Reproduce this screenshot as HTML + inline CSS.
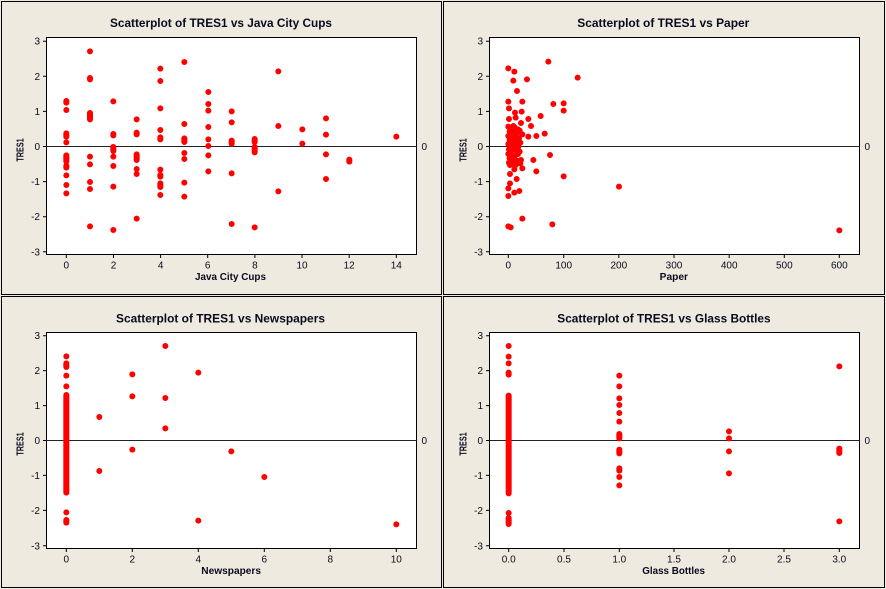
<!DOCTYPE html>
<html><head><meta charset="utf-8"><style>
html,body{margin:0;padding:0;background:#EEEADF;}
svg{display:block;}
text{font-family:"Liberation Sans",Arial,sans-serif;fill:#0a0a1e;}
.t{font-size:12px;font-weight:bold;}
.a{font-size:10px;font-weight:bold;}
.k{font-size:10px;}
</style></head><body>
<svg width="886" height="589" viewBox="0 0 886 589" xmlns="http://www.w3.org/2000/svg">
<rect x="0" y="0" width="886" height="589" fill="#EEEADF"/>
<g fill="none" stroke="#000" stroke-width="1">
<rect x="1.5" y="1.5" width="440" height="293"/>
<rect x="443.5" y="1.5" width="441" height="293"/>
<rect x="1.5" y="296.5" width="440" height="291"/>
<rect x="443.5" y="296.5" width="441" height="291"/>
</g>

<!-- Panel TL -->
<g transform="translate(0,0)">
<rect x="46.5" y="37.5" width="370" height="217" fill="#fff" stroke="#000"/>
<line x1="46.5" y1="146.5" x2="416.5" y2="146.5" stroke="#222"/>
<g stroke="#000">
<path d="M43 41.2H46M43 76.3H46M43 111.4H46M43 146.5H46M43 181.6H46M43 216.7H46M43 251.8H46" />
<path d="M66.3 254V258M113.5 254V258M160.6 254V258M207.7 254V258M254.9 254V258M302 254V258M349.2 254V258M396.3 254V258"/>
</g>
<g class="k" text-anchor="end">
<text x="40" y="44.7">3</text><text x="40" y="79.8">2</text><text x="40" y="114.9">1</text><text x="40" y="150">0</text><text x="40" y="185.1">-1</text><text x="40" y="220.2">-2</text><text x="40" y="255.3">-3</text>
</g>
<g class="k" text-anchor="middle">
<text x="66.3" y="268.5">0</text><text x="113.5" y="268.5">2</text><text x="160.6" y="268.5">4</text><text x="207.7" y="268.5">6</text><text x="254.9" y="268.5">8</text><text x="302" y="268.5">10</text><text x="349.2" y="268.5">12</text><text x="396.3" y="268.5">14</text>
</g>
<text class="k" x="421.5" y="150">0</text>
<text class="t" x="110" y="27" textLength="222" lengthAdjust="spacingAndGlyphs">Scatterplot of TRES1 vs Java City Cups</text>
<text class="a" x="195" y="280" textLength="71" lengthAdjust="spacingAndGlyphs">Java City Cups</text>
<text class="a" transform="translate(23.5,150) rotate(-90)" text-anchor="middle" textLength="23.3" lengthAdjust="spacingAndGlyphs">TRES1</text>
<g transform="scale(0.33333)"><path fill="none" stroke="#f00" stroke-width="18" stroke-linecap="round" d="
M199 303V308M199 330h0M199 400V410M199 427h0M199 466V484M199 497V503M199 526h0M199 555h0M199 580h0
M270 154h0M270 234V238M270 339V358M270 470h0M270 493h0M270 546h0M270 567h0M270 679h0
M340 304h0M340 402V406M340 441V453M340 470h0M340 498h0M340 560h0M340 690h0
M410 358h0M410 398V403M410 463V480M410 507h0M410 522h0M410 656h0
M481 206h0M481 243h0M481 325h0M481 390h0M481 412V418M481 509h0M481 525V530M481 550V561M481 585h0
M553 186h0M553 372h0M553 415V426M553 459h0M553 477h0M553 548h0M553 590h0
M625 276h0M625 312h0M625 332h0M625 381h0M625 418h0M625 438h0M625 466h0M625 514h0
M695 334h0M695 367h0M695 422V431M695 520h0M695 672h0
M764 417V426M764 441V457M764 682h0
M835 214h0M835 378h0M835 574h0
M907 388h0M907 431h0
M978 355h0M978 404h0M978 463h0M978 537h0
M1048 479V485
M1189 410h0"/></g>
</g>

<!-- Panel TR -->
<g transform="translate(443,0)">
<rect x="46.5" y="37.5" width="370" height="217" fill="#fff" stroke="#000"/>
<line x1="46.5" y1="146.5" x2="416.5" y2="146.5" stroke="#222"/>
<g stroke="#000">
<path d="M43 41.2H46M43 76.3H46M43 111.4H46M43 146.5H46M43 181.6H46M43 216.7H46M43 251.8H46" />
<path d="M65.3 254V258M120.7 254V258M175.8 254V258M231 254V258M286.2 254V258M341.3 254V258M396.3 254V258"/>
</g>
<g class="k" text-anchor="end">
<text x="40" y="44.7">3</text><text x="40" y="79.8">2</text><text x="40" y="114.9">1</text><text x="40" y="150">0</text><text x="40" y="185.1">-1</text><text x="40" y="220.2">-2</text><text x="40" y="255.3">-3</text>
</g>
<g class="k" text-anchor="middle">
<text x="65.3" y="268.5">0</text><text x="120.7" y="268.5">100</text><text x="175.8" y="268.5">200</text><text x="231" y="268.5">300</text><text x="286.2" y="268.5">400</text><text x="341.3" y="268.5">500</text><text x="396.3" y="268.5">600</text>
</g>
<text class="k" x="421.5" y="150">0</text>
<text class="t" x="134.3" y="27" textLength="172" lengthAdjust="spacingAndGlyphs">Scatterplot of TRES1 vs Paper</text>
<text class="a" x="216.7" y="280" textLength="28.3" lengthAdjust="spacingAndGlyphs">Paper</text>
<text class="a" transform="translate(23.5,150) rotate(-90)" text-anchor="middle" textLength="23.3" lengthAdjust="spacingAndGlyphs">TRES1</text>
<g transform="scale(0.33333)"><path fill="none" stroke="#f00" stroke-width="18" stroke-linecap="round" d="
M316 185h0M196 205h0M214 215h0M211 242h0M252 238h0M404 233h0M222 273h0
M196 305h0M238 305h0M331 312h0M362 310h0M362 332h0M198 325h0M216 338h0M236 335h0M198 357h0M218 353h0M256 357h0M293 348h0
M234 369h0M264 378h0M211 378h0
M196 380h0M205 385h0M215 382h0M225 388h0M200 395h0M212 398h0M222 400h0M230 392h0M196 408h0M206 412h0M218 410h0M228 415h0M200 420h0M210 425h0M222 422h0M232 428h0M196 432h0M206 438h0M216 435h0M226 440h0M198 448h0M210 450h0M220 452h0M230 455h0M196 462h0M205 465h0M215 468h0M225 462h0M200 475h0M212 478h0M222 482h0M232 490h0M198 488h0M208 492h0M218 495h0
M238 403h0M256 410h0M280 408h0M305 401h0
M321 465h0M271 480h0M234 480h0M280 514h0M238 505h0M362 529h0
M201 495h0M214 508h0M201 522h0M221 537h0M201 550h0M196 565h0M214 578h0M229 573h0M196 588h0
M238 656h0M328 673h0M196 679h0M203 682h0
M528 560h0M1189 691h0"/></g>
</g>

<!-- Panel BL -->
<g transform="translate(0,294)">
<rect x="46.5" y="38.5" width="370" height="216" fill="#fff" stroke="#000"/>
<line x1="46.5" y1="146.5" x2="416.5" y2="146.5" stroke="#222"/>
<g stroke="#000">
<path d="M43 41.7H46M43 76.6H46M43 111.6H46M43 146.5H46M43 181.4H46M43 216.4H46M43 251.8H46" />
<path d="M66.3 254V258M132.3 254V258M198.3 254V258M264.3 254V258M330.3 254V258M396.3 254V258"/>
</g>
<g class="k" text-anchor="end">
<text x="40" y="45.2">3</text><text x="40" y="80.1">2</text><text x="40" y="115.1">1</text><text x="40" y="150">0</text><text x="40" y="184.9">-1</text><text x="40" y="219.9">-2</text><text x="40" y="255.3">-3</text>
</g>
<g class="k" text-anchor="middle">
<text x="66.3" y="268.5">0</text><text x="132.3" y="268.5">2</text><text x="198.3" y="268.5">4</text><text x="264.3" y="268.5">6</text><text x="330.3" y="268.5">8</text><text x="396.3" y="268.5">10</text>
</g>
<text class="k" x="421.5" y="150">0</text>
<text class="t" x="116" y="28.3" textLength="209" lengthAdjust="spacingAndGlyphs">Scatterplot of TRES1 vs Newspapers</text>
<text class="a" x="201.3" y="280" textLength="59.7" lengthAdjust="spacingAndGlyphs">Newspapers</text>
<text class="a" transform="translate(23.5,150) rotate(-90)" text-anchor="middle" textLength="23.3" lengthAdjust="spacingAndGlyphs">TRES1</text>
<g transform="scale(0.33333)"><path fill="none" stroke="#f00" stroke-width="18" stroke-linecap="round" d="
M199 187h0M199 208V219M199 245h0M199 277h0M199 303V596M199 655h0M199 678V686
M298 369h0M298 531h0
M397 241h0M397 307h0M397 467h0
M496 156h0M496 312h0M496 403h0
M595 236h0M595 680h0
M694 472h0M793 549h0M1189 691h0"/></g>
</g>

<!-- Panel BR -->
<g transform="translate(443,294)">
<rect x="46.5" y="38.5" width="370" height="216" fill="#fff" stroke="#000"/>
<line x1="46.5" y1="146.5" x2="416.5" y2="146.5" stroke="#222"/>
<g stroke="#000">
<path d="M43 41.7H46M43 76.6H46M43 111.6H46M43 146.5H46M43 181.4H46M43 216.4H46M43 251.8H46" />
<path d="M65.7 254V258M121 254V258M176.3 254V258M231 254V258M286 254V258M341 254V258M396.3 254V258"/>
</g>
<g class="k" text-anchor="end">
<text x="40" y="45.2">3</text><text x="40" y="80.1">2</text><text x="40" y="115.1">1</text><text x="40" y="150">0</text><text x="40" y="184.9">-1</text><text x="40" y="219.9">-2</text><text x="40" y="255.3">-3</text>
</g>
<g class="k" text-anchor="middle">
<text x="65.7" y="268.5">0.0</text><text x="121" y="268.5">0.5</text><text x="176.3" y="268.5">1.0</text><text x="231" y="268.5">1.5</text><text x="286" y="268.5">2.0</text><text x="341" y="268.5">2.5</text><text x="396.3" y="268.5">3.0</text>
</g>
<text class="k" x="421.5" y="150">0</text>
<text class="t" x="114.3" y="28.3" textLength="213.3" lengthAdjust="spacingAndGlyphs">Scatterplot of TRES1 vs Glass Bottles</text>
<text class="a" x="199.3" y="280" textLength="62.7" lengthAdjust="spacingAndGlyphs">Glass Bottles</text>
<text class="a" transform="translate(23.5,150) rotate(-90)" text-anchor="middle" textLength="23.3" lengthAdjust="spacingAndGlyphs">TRES1</text>
<g transform="scale(0.33333)"><path fill="none" stroke="#f00" stroke-width="18" stroke-linecap="round" d="
M197 156h0M197 188h0M197 208h0M197 236V242M197 305V598M197 657h0M197 672V690
M529 245h0M529 277h0M529 313h0M529 333h0M529 357h0M529 383h0M529 420V433M529 467V478M529 523V530M529 549h0M529 574h0
M858 412h0M858 433h0M858 472h0M858 538h0
M1189 217h0M1189 464V477M1189 682h0"/></g>
</g>
</svg>
</body></html>
